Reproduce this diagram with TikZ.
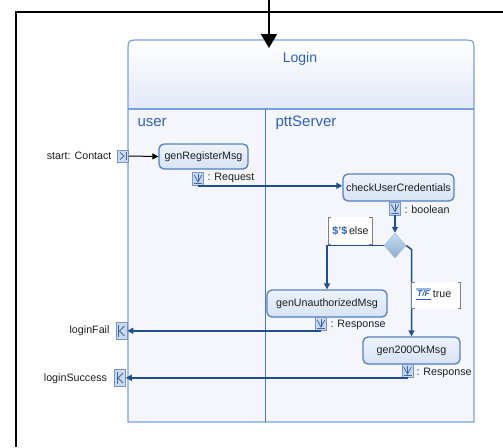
\documentclass[tikz,border=0pt]{standalone}
\usepackage{fontspec}
\setmainfont{Liberation Sans}
\usetikzlibrary{arrows.meta,shapes.geometric,calc}
\definecolor{frameblue}{HTML}{78A0DC}
\definecolor{laneblue}{HTML}{4A78C8}
\definecolor{titleblue}{HTML}{2F60C0}
\definecolor{bodyfill}{HTML}{F4F6FC}
\definecolor{headfill}{HTML}{E2E8F7}
\definecolor{nodetop}{HTML}{EEF3FB}
\definecolor{nodefill}{HTML}{D6E2F4}
\definecolor{nodeborder}{HTML}{5581BF}
\definecolor{flowblue}{HTML}{1F4F8F}
\definecolor{pinfill}{HTML}{CAD9EE}
\definecolor{pinborder}{HTML}{7894C2}
\definecolor{pinglyph}{HTML}{3D68A8}
\definecolor{iconblue}{HTML}{2A5EC0}
\definecolor{iconbar}{HTML}{9DB8E4}
\definecolor{bracketgrey}{HTML}{808080}
\definecolor{diatop}{HTML}{CADCEE}
\definecolor{diabot}{HTML}{8AAED0}
\begin{document}
\begin{tikzpicture}[x=1pt,y=-1pt,
  txt/.style={font=\fontsize{10.7}{12}\selectfont, text=black!88},
  action/.style={draw=nodeborder, line width=1.3pt, rounded corners=5pt,
     top color=nodetop, bottom color=nodefill, inner sep=0pt, txt},
  pinbox/.style={draw=pinborder, fill=pinfill, line width=0.6pt, inner sep=0pt,
     minimum width=11pt, minimum height=13pt},
  edgepin/.style={pinbox, minimum height=17pt},
  flow/.style={draw=flowblue, line width=1.5pt, -{Triangle[length=6pt,width=6pt]}},
  ctrl/.style={draw=black, line width=1pt, -{Triangle[length=6pt,width=6pt]}},
  glyph/.style={draw=pinglyph, line width=0.8pt},
  bracket/.style={draw=bracketgrey, line width=0.9pt},
  lanelabel/.style={anchor=west, text=titleblue, font=\fontsize{15}{17}\selectfont}
]
\useasboundingbox (0,0) rectangle (503,447);
\fill[white] (0,0) rectangle (503,447);

% outer black frame
\draw[line width=2pt] (16,447) -- (16,12) -- (503,12);

% Login activity frame
\path[fill=bodyfill] (128,422) -- (128,52) .. controls (128,40) .. (140,40) -- (462,40) .. controls (474,40) .. (474,52) -- (474,422) -- cycle;
\shade[top color=white, bottom color=headfill] (128,109) -- (128,52) .. controls (128,40) .. (140,40) -- (462,40) .. controls (474,40) .. (474,52) -- (474,109) -- cycle;
\draw[frameblue, line width=1.2pt] (128,422) -- (128,52) .. controls (128,40) .. (140,40) -- (462,40) .. controls (474,40) .. (474,52) -- (474,422) -- cycle;
\draw[frameblue, line width=1.2pt] (128,109) -- (474,109);
\draw[laneblue, line width=1.4pt] (265.5,109) -- (265.5,422);

\node[text=titleblue, font=\fontsize{14}{16}\selectfont] (title) at (300,59) {Login};
\node[lanelabel] (laneuser) at (134,123) {user};
\node[lanelabel] (laneserver) at (272,123) {pttServer};

% incoming arrow from above
\coordinate (topsrc) at (269,0);
\coordinate (toptgt) at (269,48);
\draw[line width=2pt, -{Triangle[length=14pt,width=16pt]}] (topsrc) -- (toptgt);

% actions
\node[action, minimum width=89pt, minimum height=25pt] (reg) at (203.5,156.5) {genRegisterMsg};
\node[action, minimum width=111pt, minimum height=27pt] (cuc) at (398.5,187.5) {checkUserCredentials};
\node[action, minimum width=120pt, minimum height=27pt] (unauth) at (327,303.5) {genUnauthorizedMsg};
\node[action, minimum width=97pt, minimum height=27pt] (ok) at (411.5,350.5) {gen200OkMsg};

% decision
\node[diamond, minimum width=22pt, minimum height=25pt, inner sep=0pt, aspect=0.88,
      top color=diatop, bottom color=diabot, draw=diabot!80!white, line width=0.5pt] (dec) at (395,245.5) {};

% parameter pins
\node[pinbox, minimum height=12pt] (pstart) at (123,156) {};
\node[txt, anchor=east] (lstart) at (115,156) {start: Contact};
\draw[glyph] ($(pstart.center)+(-3,-3.5)$) -- ($(pstart.center)+(1,0)$) -- ($(pstart.center)+(-3,3.5)$);
\draw[glyph] ($(pstart.center)+(3,-4)$) -- ($(pstart.center)+(3,4)$);

\node[edgepin] (pfail) at (121.5,331) {};
\node[txt, anchor=east] (lfail) at (113,331) {loginFail};
\draw[glyph] ($(pfail.center)+(-3,-6)$) -- ($(pfail.center)+(-3,6)$);
\draw[glyph] ($(pfail.center)+(3,-5)$) -- ($(pfail.center)+(-2,0)$) -- ($(pfail.center)+(3,5)$);

\node[edgepin] (psucc) at (120,378) {};
\node[txt, anchor=east] (lsucc) at (110.5,379) {loginSuccess};
\draw[glyph] ($(psucc.center)+(-3,-6)$) -- ($(psucc.center)+(-3,6)$);
\draw[glyph] ($(psucc.center)+(3,-5)$) -- ($(psucc.center)+(-2,0)$) -- ($(psucc.center)+(3,5)$);

% output pins
\node[pinbox] (preg) at (198,179) {};
\node[pinbox] (pcuc) at (395,208.5) {};
\node[pinbox] (punauth) at (321,324) {};
\node[pinbox] (pok) at (407.5,371) {};
\foreach \p in {preg,pcuc,punauth,pok}{
  \draw[glyph] ($(\p.center)+(-3.8,-4)$) -- ($(\p.center)+(0,3)$) -- ($(\p.center)+(3.8,-4)$);
  \draw[glyph] ($(\p.center)+(-4,4.5)$) -- ($(\p.center)+(4,4.5)$);
  \draw[glyph] ($(\p.center)+(0,-5)$) -- ($(\p.center)+(0,3)$);
}
\node[txt, anchor=west] (lreg) at (204,177.5) {: Request};
\node[txt, anchor=west] (lcuc) at (401,210) {: boolean};
\node[txt, anchor=west] (lunauth) at (327,325) {: Response};
\node[txt, anchor=west] (lok) at (413,372.5) {: Response};

% flows
\draw[ctrl] (pstart.east) -- (reg.west);
\draw[flow] (preg.south) -- (preg.south -| cuc.west);
\draw[flow] (pcuc.south) -- (dec.north);
\draw[flow] (dec.west) -| (unauth.north);
\draw[flow] (dec.east) -- ($(dec.east -| ok.north)+(0,4)$) -- (ok.north);
\draw[flow] (punauth.south) -- (punauth.south -| pfail.east);
\draw[flow] (pok.south) -- (pok.south -| psucc.east);

% guards
\fill[white] (327,217) rectangle (373,245);
\draw[bracket] (331,217.5) -- (328,217.5) -- (328,244) -- (331,244);
\draw[bracket] (369,217.5) -- (372,217.5) -- (372,244) -- (369,244);
\node[txt, inner sep=0pt] (gelse) at (350.5,231) {\textcolor{iconblue}{\textbf{\$'\$}}\,else};

\fill[white] (411,282) rectangle (461,309);
\draw[bracket] (414.5,282.5) -- (411.5,282.5) -- (411.5,308.5) -- (414.5,308.5);
\draw[bracket] (457.5,282.5) -- (460.5,282.5) -- (460.5,308.5) -- (457.5,308.5);
\node[text=iconblue, font=\fontsize{8.5}{9}\selectfont\bfseries\itshape, inner xsep=1pt, inner ysep=1.5pt] (tficon) at (423.5,294) {T/F};
\draw[iconbar, line width=1.6pt] (tficon.north west) -- (tficon.north east);
\draw[iconblue, line width=0.7pt] (tficon.south west) -- (tficon.south east);
\node[txt, anchor=west, inner sep=1pt] (gtrue) at ([xshift=0.5pt]tficon.east) {true};
\end{tikzpicture}
\end{document}
